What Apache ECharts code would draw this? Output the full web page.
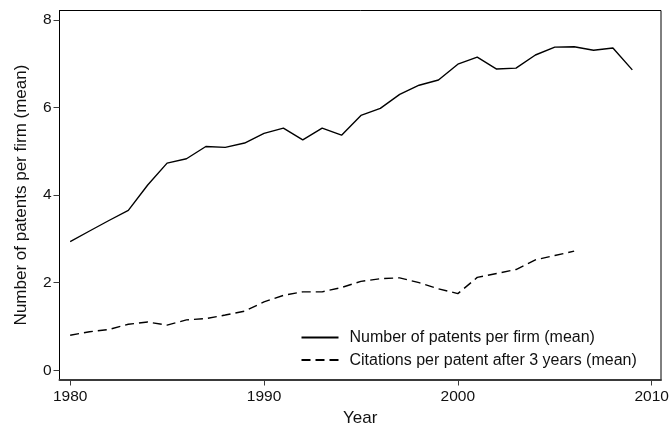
<!DOCTYPE html>
<html>
<head>
<meta charset="utf-8">
<script src="https://cdn.jsdelivr.net/npm/echarts@6/dist/echarts.min.js"></script>
<style>
  html, body { margin: 0; padding: 0; background: #fff; }
  #chart { width: 670px; height: 425px; }
</style>
</head>
<body>
<div id="chart"></div>
<script>
// years on the x axis
var years = [1980, 1981, 1982, 1983, 1984, 1985, 1986, 1987, 1988, 1989,
             1990, 1991, 1992, 1993, 1994, 1995, 1996, 1997, 1998, 1999,
             2000, 2001, 2002, 2003, 2004, 2005, 2006, 2007, 2008, 2009];
// number of patents per firm (mean)
var patentsPerFirm = [2.94, 3.18, 3.42, 3.65, 4.23, 4.73, 4.83, 5.11, 5.09, 5.19,
                      5.41, 5.53, 5.26, 5.53, 5.37, 5.82, 5.98, 6.30, 6.51, 6.63,
                      6.99, 7.15, 6.88, 6.90, 7.20, 7.38, 7.39, 7.31, 7.36, 6.86];
// citations per patent after 3 years (mean), ends in 2006
var citationsPerPatent = [0.80, 0.88, 0.93, 1.05, 1.10, 1.03, 1.15, 1.18, 1.26, 1.35,
                          1.56, 1.71, 1.79, 1.79, 1.89, 2.03, 2.09, 2.11, 2.00, 1.86,
                          1.75, 2.12, 2.21, 2.30, 2.52, 2.62, 2.72];
var xTicks = [1980, 1990, 2000, 2010];
var yTicks = [0, 2, 4, 6, 8];

var names = ['Number of patents per firm (mean)', 'Citations per patent after 3 years (mean)'];

function pairs(vals) {
  var out = [];
  for (var i = 0; i < vals.length; i++) {
    out.push([years[i], vals[i]]);
  }
  return out;
}

var font = 'Liberation Sans, Arial, Helvetica, sans-serif';
var chart = echarts.init(document.getElementById('chart'));

var option = {
  animation: false,
  backgroundColor: '#fff',
  textStyle: { fontFamily: font, color: '#111' },
  grid: {
    left: 59.5, right: 9, top: 10.5, bottom: 45.5,
    outerBoundsMode: 'none',
    containLabel: false,
    show: true, borderColor: '#000', borderWidth: 1
  },
  legend: {
    orient: 'vertical',
    left: 300.5, top: 329.5,
    padding: 0,
    itemWidth: 37, itemHeight: 10, itemGap: 6.6,
    itemStyle: { opacity: 0 },
    textStyle: { fontSize: 16, lineHeight: 16, color: '#111', fontFamily: font, padding: [0, 0, 0, 6] },
    data: names
  },
  xAxis: {
    type: 'value',
    min: 1979.45, max: 2010.48,
    name: 'Year',
    nameLocation: 'middle',
    nameGap: 29,
    nameTextStyle: { fontSize: 17, color: '#111', fontFamily: font },
    axisLine: { onZero: false, lineStyle: { color: '#3a3a3a', width: 2 } },
    axisTick: { length: 6, customValues: xTicks, lineStyle: { color: '#3a3a3a' } },
    axisLabel: {
      customValues: xTicks, margin: 9, fontSize: 15.5, color: '#111', fontFamily: font,
      formatter: function (v) { return String(v); }
    },
    splitLine: { show: false }
  },
  yAxis: {
    type: 'value',
    min: -0.212, max: 8.217,
    name: 'Number of patents per firm (mean)',
    nameLocation: 'middle',
    nameGap: 30,
    nameTextStyle: { fontSize: 17, color: '#111', fontFamily: font },
    axisLine: { show: true, onZero: false, lineStyle: { color: '#000', width: 1 } },
    axisTick: { show: true, length: 6, customValues: yTicks, lineStyle: { color: '#3a3a3a' } },
    axisLabel: { customValues: yTicks, margin: 8, fontSize: 15.5, color: '#111', fontFamily: font },
    splitLine: { show: false }
  },
  series: [
    {
      name: names[0],
      type: 'line',
      symbol: 'none',
      data: pairs(patentsPerFirm),
      lineStyle: { color: '#000', width: 1.4, type: 'solid' },
      itemStyle: { color: '#000' }
    },
    {
      name: names[1],
      type: 'line',
      symbol: 'none',
      data: pairs(citationsPerPatent),
      lineStyle: { color: '#000', width: 1.4, type: [9, 5] },
      itemStyle: { color: '#000' }
    }
  ]
};

chart.setOption(option);
</script>
</body>
</html>
